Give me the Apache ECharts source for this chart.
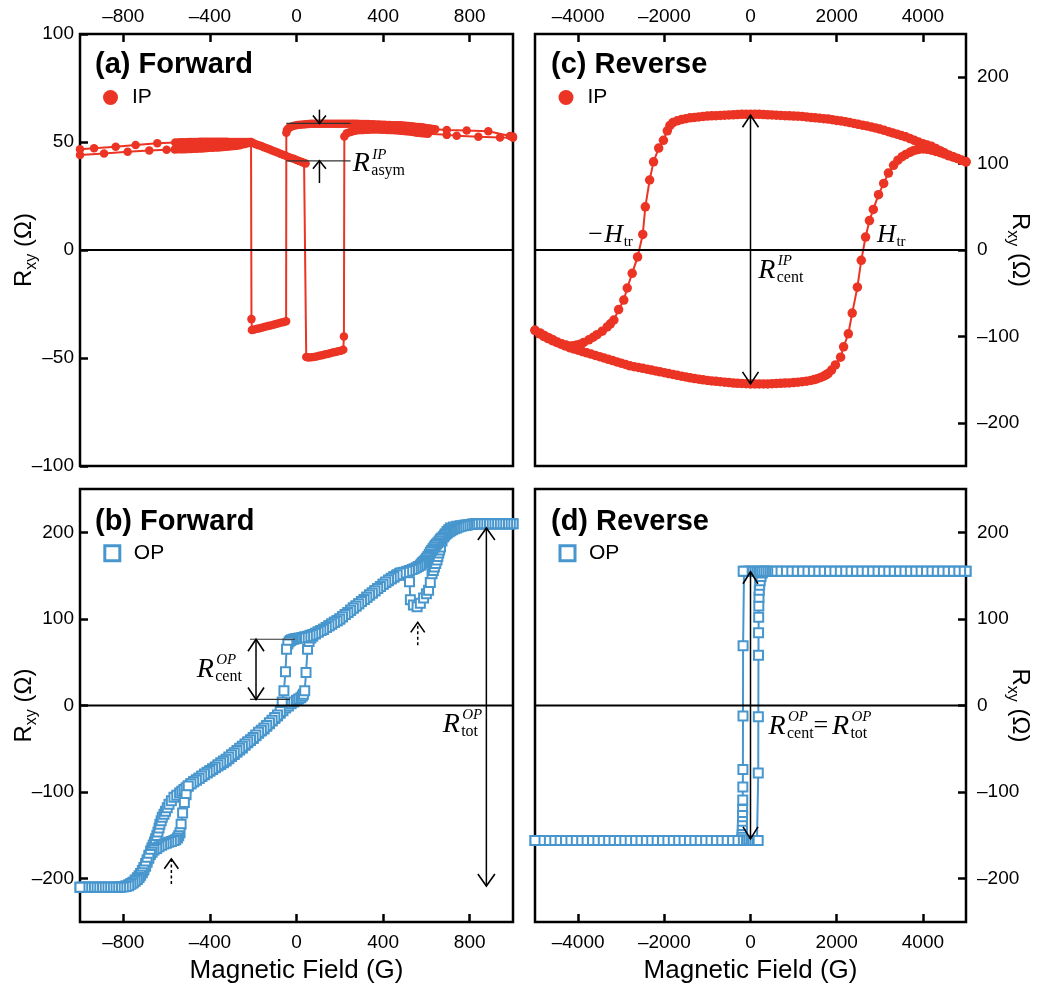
<!DOCTYPE html>
<html><head><meta charset="utf-8">
<script src="https://cdn.jsdelivr.net/npm/echarts@6/dist/echarts.min.js"></script>
<style>html,body{margin:0;padding:0;background:#fff}#c{width:1040px;height:989px}</style>
</head><body><div id="c"></div>
<script>
const RED = '#eb3424', BLUE = '#4796cd';
const SANS = "'Liberation Sans', Arial, Helvetica, sans-serif";
const SERIF = "'Liberation Serif', 'Times New Roman', serif";

// tick values
const fwdTicks = [-800, -400, 0, 400, 800];
const revTicks = [-4000, -2000, 0, 2000, 4000];
const ipFwdYTicks = [-100, -50, 0, 50, 100];
const rTicks = [-200, -100, 0, 100, 200];

// (a) IP forward  [field G, Rxy Ohm]
const ipFwdUp = [[-1000,44.0],[-889,44.7],[-780,45.5],[-680,46.1],[-600,46.4],[-562.5,46.5],[-550,46.6],[-537.5,46.6],[-525,46.7],[-512.5,46.7],[-500,46.8],[-487.5,46.8],[-475,46.9],[-462.5,46.9],[-450,47.0],[-437.5,47.0],[-425,47.1],[-412.5,47.2],[-400,47.3],[-387.5,47.3],[-375,47.4],[-362.5,47.5],[-350,47.6],[-337.5,47.7],[-325,47.8],[-312.5,47.9],[-300,48.0],[-287.5,48.1],[-275,48.3],[-262.5,48.5],[-250,48.8],[-237.5,49.1],[-225,49.4],[-212,50.0],[-200,49.5],[-187.5,49.0],[-175,48.5],[-162.5,48.1],[-150,47.6],[-137.5,47.1],[-125,46.6],[-112.5,46.1],[-100,45.6],[-87.5,45.1],[-75,44.6],[-62.5,44.1],[-50,43.6],[-37.5,43.1],[-25,42.6],[-12.5,42.2],[0,41.7],[12.5,41.2],[25,40.7],[35,40.3],[42,40.0],[45,-49.5],[55,-49.8],[67.5,-49.7],[80,-49.5],[92.5,-49.3],[105,-49.0],[117.5,-48.7],[130,-48.4],[142.5,-48.1],[155,-47.8],[167.5,-47.5],[180,-47.2],[192.5,-46.9],[205,-46.6],[216,-46.2],[219,-40.0],[221,52.6],[232,54.0],[245,54.5],[257,54.9],[270,55.2],[282,55.4],[295,55.5],[307,55.6],[320,55.7],[332,55.7],[345,55.8],[357,55.8],[370,55.8],[382,55.8],[395,55.7],[407,55.7],[420,55.6],[432,55.6],[445,55.5],[457,55.4],[470,55.3],[482,55.2],[495,55.1],[507,55.0],[520,54.9],[532,54.7],[545,54.5],[557,54.3],[570,54.2],[582,54.0],[595,53.9],[607,53.8],[694,53.3],[740,52.9],[840,52.4],[940,52.1],[1000,52.0]];
const ipFwdDown = [[1000,52.6],[986,52.8],[886,55.0],[786,55.3],[694,55.6],[641,55.9],[630,56.0],[617,56.2],[605,56.4],[592,56.6],[580,56.8],[567,56.9],[555,57.0],[542,57.2],[530,57.3],[517,57.4],[505,57.5],[492,57.6],[480,57.7],[467,57.7],[455,57.8],[442,57.8],[430,57.9],[417,57.9],[405,58.0],[392,58.0],[380,58.1],[367,58.1],[355,58.2],[342,58.2],[330,58.3],[317,58.3],[305,58.3],[292,58.3],[280,58.4],[267,58.4],[255,58.4],[242,58.4],[230,58.5],[217,58.5],[205,58.5],[192,58.5],[180,58.5],[167,58.5],[155,58.5],[142,58.5],[130,58.5],[117,58.5],[105,58.5],[92,58.5],[80,58.4],[67,58.4],[55,58.3],[42,58.2],[30,58.1],[17,58.0],[5,57.9],[-7,57.6],[-20,57.3],[-30,56.8],[-38,56.2],[-44,55.5],[-47,54.3],[-48,-33.0],[-58,-33.3],[-70,-33.6],[-82,-33.9],[-95,-34.3],[-107,-34.6],[-120,-34.9],[-132,-35.2],[-145,-35.5],[-157,-35.9],[-170,-36.2],[-182,-36.5],[-195,-36.8],[-206,-37.0],[-208,-32.0],[-210,50.0],[-222,50.0],[-235,50.0],[-247,50.0],[-260,50.0],[-272,50.0],[-285,50.0],[-297,50.0],[-310,50.0],[-322,50.1],[-335,50.1],[-347,50.1],[-360,50.1],[-372,50.1],[-385,50.1],[-397,50.1],[-410,50.1],[-422,50.1],[-435,50.1],[-447,50.1],[-460,50.0],[-472,50.0],[-485,50.0],[-497,50.0],[-510,49.9],[-522,49.9],[-535,49.9],[-547,49.8],[-560,49.8],[-643,49.4],[-743,48.6],[-835,47.8],[-935,47.1],[-1000,46.6]];

// (c) IP reverse
const ipRevDown = [[5000,102],[4900,104],[4800,106],[4700,108],[4600,110],[4500,112.5],[4400,115],[4300,117.5],[4200,120],[4100,121.5],[4000,123],[3900,125],[3800,127],[3700,129],[3600,131],[3500,132.5],[3400,134],[3300,135.5],[3200,137],[3100,138.5],[3000,140],[2900,141.3],[2800,142.5],[2700,143.5],[2600,144.5],[2500,145.5],[2400,146.5],[2300,147.5],[2200,148.5],[2100,149.3],[2000,150],[1900,150.8],[1800,151.5],[1700,152],[1600,152.5],[1500,153],[1400,153.5],[1300,154],[1200,154.5],[1100,154.8],[1000,155],[900,155.3],[800,155.5],[700,155.8],[600,156],[500,156.3],[400,156.5],[300,156.8],[200,157],[100,157],[0,157],[-100,157],[-200,157],[-300,156.8],[-400,156.5],[-500,156.3],[-600,156],[-700,155.8],[-800,155.5],[-900,155.3],[-1000,155],[-1100,154.5],[-1200,154],[-1300,153.5],[-1400,153],[-1500,152],[-1600,151],[-1700,149.5],[-1800,147.5],[-1870,144],[-1930,138],[-2020,127],[-2130,118],[-2250,102],[-2340,81],[-2440,50],[-2500,18],[-2620,-8],[-2745,-27],[-2860,-44],[-2940,-58],[-3060,-69],[-3170,-81],[-3250,-85.5],[-3325,-89],[-3440,-94],[-3560,-98],[-3650,-101],[-3750,-104],[-3870,-107],[-3950,-109],[-4030,-110],[-4100,-110.7],[-4180,-111],[-4280,-110],[-4380,-108.5],[-4480,-106.5],[-4580,-104],[-4680,-101.5],[-4780,-99],[-4880,-96],[-5000,-93]];
const ipRevUp = [[-5000,-93],[-4900,-97],[-4800,-100],[-4700,-102.5],[-4600,-105],[-4500,-107],[-4400,-109],[-4300,-111],[-4200,-113],[-4100,-114.5],[-4000,-116],[-3900,-117.5],[-3800,-119],[-3700,-120.5],[-3600,-122],[-3500,-123.5],[-3400,-125],[-3300,-126.5],[-3200,-128],[-3100,-129.5],[-3000,-131],[-2900,-132.5],[-2800,-134],[-2700,-135],[-2600,-136],[-2500,-137],[-2400,-138],[-2300,-139],[-2200,-140],[-2100,-141],[-2000,-142],[-1900,-143],[-1800,-144],[-1700,-145],[-1600,-146],[-1500,-147],[-1400,-148],[-1300,-148.8],[-1200,-149.5],[-1100,-150.3],[-1000,-151],[-900,-151.5],[-800,-152],[-700,-152.5],[-600,-153],[-500,-153.5],[-400,-154],[-300,-154.3],[-200,-154.5],[-100,-154.8],[0,-155],[100,-155],[200,-155],[300,-155],[400,-155],[500,-154.8],[600,-154.5],[700,-154.3],[800,-154],[900,-153.8],[1000,-153.5],[1100,-153],[1200,-152.5],[1300,-151.8],[1400,-151],[1480,-150],[1550,-149],[1630,-147.5],[1700,-146],[1750,-144.5],[1800,-143],[1880,-139],[1970,-133],[2090,-124],[2160,-112],[2270,-97],[2360,-73],[2480,-43],[2570,-12],[2670,15],[2760,34],[2850,47],[2970,64],[3090,77],[3200,89],[3320,98],[3420,104],[3520,108],[3600,110.5],[3700,113],[3780,115],[3850,116],[3920,116.7],[4010,117],[4100,116.5],[4200,115.5],[4300,114],[4400,112.7],[4500,111],[4600,109],[4700,107.5],[4800,106],[4900,104],[5000,102]];

// (b) OP forward
const opFwdUp = [[-1000,-210],[-987.5,-210],[-975,-210],[-962.5,-210],[-950,-210],[-937.5,-210],[-925,-210],[-912.5,-210],[-900,-210],[-887.5,-210],[-875,-210],[-862.5,-210],[-850,-210],[-837.5,-210],[-825,-209.5],[-812.5,-209.3],[-800,-209],[-787.5,-208.2],[-775,-207],[-765,-205.5],[-755,-204],[-745,-201.5],[-735,-199],[-727,-196.5],[-720,-194],[-712,-190.5],[-705,-187],[-697,-182.5],[-690,-178],[-682,-173],[-674,-168],[-668,-164.5],[-662,-161],[-656,-157.5],[-651,-154],[-645,-150],[-640,-146],[-635,-141.5],[-631,-137],[-625,-133],[-620,-129],[-612,-125.5],[-605,-122],[-597,-118],[-589,-114],[-578,-110],[-566,-106],[-553,-103.5],[-540,-101],[-530,-99],[-520,-97],[-510,-95],[-500,-93],[-487.5,-90.5],[-475,-88],[-462.5,-86],[-450,-84],[-437.5,-82],[-425,-80],[-412.5,-78],[-400,-76],[-387.5,-74],[-375,-72],[-362.5,-70],[-350,-68],[-337.5,-66],[-325,-64],[-312.5,-61.5],[-300,-59],[-287.5,-56.5],[-275,-54],[-262.5,-51.5],[-250,-49],[-237.5,-46],[-225,-43],[-212.5,-40.5],[-200,-38],[-187.5,-35],[-175,-32],[-162.5,-29.5],[-150,-27],[-137.5,-24],[-125,-21],[-112.5,-18],[-100,-15],[-87.5,-12],[-75,-9],[-62.5,-6],[-50,-3],[-37.5,-0.5],[-25,2],[-12.5,4],[0,6],[10,7.5],[20,9],[27,11],[32,13],[38,17],[44,38],[51,65],[58,74],[66,78],[75,80],[87.5,82.5],[100,85],[112.5,86.5],[125,88],[137.5,90],[150,92],[162.5,94],[175,96],[187.5,98],[200,100],[212.5,102.5],[225,105],[237.5,107.5],[250,110],[262.5,112.5],[275,115],[287.5,117.5],[300,120],[312.5,122.5],[325,125],[337.5,127.5],[350,130],[362.5,132.5],[375,135],[387.5,137.5],[400,140],[412.5,142],[425,144],[437.5,146],[450,148],[462.5,150],[475,152],[487.5,153],[500,153],[510,151.5],[515,150],[522,143],[526,122],[540,116],[557,114],[572,118],[587,124],[600,129],[610,133],[618,142],[626,152],[632,156],[637,160],[643,164],[649,168],[653,172],[657,176],[661,179.5],[665,183],[672,190],[680,195],[687,198],[695,201],[703,203],[711,205],[725,206],[740,207],[756,207.5],[772,208],[786,208.5],[800,209],[812.5,209.3],[825,209.5],[837.5,209.8],[850,210],[862.5,210],[875,210],[887.5,210],[900,210],[912.5,210],[925,210],[937.5,210],[950,210],[962.5,210],[975,210],[987.5,210],[1000,210]];
const opFwdDown = [[1000,210],[987.5,210],[975,210],[962.5,210],[950,210],[937.5,210],[925,210],[912.5,210],[900,210],[887.5,210],[875,210],[862.5,210],[850,210],[837.5,210],[825,210],[812.5,209.5],[800,209],[790,208.5],[780,208],[770,207.5],[760,207],[750,206],[740,205],[730,204],[720,203],[712,201.8],[705,200.5],[697,199.3],[690,198],[684,196.5],[678,195],[671,193.5],[665,192],[659,190],[653,188],[647,186.5],[641,185],[636,183],[630,181],[624,179],[618,177],[613,174.5],[607,172],[601,170],[595,168],[589,166.5],[583,165],[577,163.5],[572,162],[562,160.5],[553,159],[543,158],[534,157],[522,156],[510,155],[495,154],[480,153],[465,151],[450,149],[437.5,147],[425,145],[412.5,142.5],[400,140],[387.5,137.5],[375,135],[362.5,132.5],[350,130],[337.5,127.5],[325,125],[312.5,122.5],[300,120],[287.5,117.5],[275,115],[262.5,112.5],[250,110],[237.5,107.5],[225,105],[212.5,102.5],[200,100],[187.5,98],[175,96],[162.5,94],[150,92],[137.5,90],[125,88],[112.5,86.5],[100,85],[87.5,83.5],[75,82],[62.5,81],[50,80],[37.5,79.3],[25,78.5],[12.5,78],[0,77.5],[-7,77],[-15,76.5],[-22,75.8],[-28,75],[-34,73.5],[-40,71],[-46,65],[-51,39],[-58,17],[-66,4],[-75,-7],[-87.5,-11],[-100,-14],[-112.5,-17],[-125,-20],[-137.5,-23],[-150,-26],[-162.5,-28.5],[-175,-31],[-187.5,-34],[-200,-37],[-212.5,-39.5],[-225,-42],[-237.5,-44.5],[-250,-47],[-262.5,-49.5],[-275,-52],[-287.5,-54.5],[-300,-57],[-312.5,-59.5],[-325,-62],[-337.5,-64],[-350,-66],[-362.5,-68.5],[-375,-71],[-387.5,-73],[-400,-75],[-412.5,-77],[-425,-79],[-437.5,-81.5],[-450,-84],[-462.5,-86],[-475,-88],[-487.5,-90.5],[-500,-93],[-510,-103],[-518,-112],[-526,-124],[-533,-137],[-538,-147],[-544,-150.5],[-550,-153],[-558,-155],[-566,-156],[-578,-157],[-590,-158],[-601,-159],[-612,-160],[-623,-161.5],[-635,-163],[-646,-165],[-658,-167],[-667,-169.5],[-675,-172],[-682,-176.5],[-690,-181],[-697,-185.5],[-705,-190],[-712,-193],[-720,-196],[-727,-198.5],[-735,-201],[-745,-203],[-755,-205],[-765,-206.5],[-775,-208],[-787.5,-209],[-800,-209.5],[-812.5,-210],[-825,-210],[-837.5,-210],[-850,-210],[-862.5,-210],[-875,-210],[-887.5,-210],[-900,-210],[-912.5,-210],[-925,-210],[-937.5,-210],[-950,-210],[-962.5,-210],[-975,-210],[-987.5,-210],[-1000,-210]];

// (d) OP reverse
const opRevUp = [[-5000,-156],[-4875,-156],[-4750,-156],[-4625,-156],[-4500,-156],[-4375,-156],[-4250,-156],[-4125,-156],[-4000,-156],[-3875,-156],[-3750,-156],[-3625,-156],[-3500,-156],[-3375,-156],[-3250,-156],[-3125,-156],[-3000,-156],[-2875,-156],[-2750,-156],[-2625,-156],[-2500,-156],[-2375,-156],[-2250,-156],[-2125,-156],[-2000,-156],[-1875,-156],[-1750,-156],[-1625,-156],[-1500,-156],[-1375,-156],[-1250,-156],[-1125,-156],[-1000,-156],[-875,-156],[-750,-156],[-625,-156],[-500,-156],[-400,-156],[-350,-156],[-300,-156],[-250,-156],[-200,-156],[-150,-156],[-100,-156],[-50,-156],[0,-156],[50,-156],[100,-156],[150,-156],[178,-156],[180,-78],[182,-13],[185,58],[187,84],[190,102],[193,115],[197,125],[203,133],[212,139],[225,144],[245,149],[275,153],[310,155],[375,155],[500,155],[625,155],[750,155],[875,155],[1000,155],[1125,155],[1250,155],[1375,155],[1500,155],[1625,155],[1750,155],[1875,155],[2000,155],[2125,155],[2250,155],[2375,155],[2500,155],[2625,155],[2750,155],[2875,155],[3000,155],[3125,155],[3250,155],[3375,155],[3500,155],[3625,155],[3750,155],[3875,155],[4000,155],[4125,155],[4250,155],[4375,155],[4500,155],[4625,155],[4750,155],[4875,155],[5000,155]];
const opRevDown = [[5000,155],[4875,155],[4750,155],[4625,155],[4500,155],[4375,155],[4250,155],[4125,155],[4000,155],[3875,155],[3750,155],[3625,155],[3500,155],[3375,155],[3250,155],[3125,155],[3000,155],[2875,155],[2750,155],[2625,155],[2500,155],[2375,155],[2250,155],[2125,155],[2000,155],[1875,155],[1750,155],[1625,155],[1500,155],[1375,155],[1250,155],[1125,155],[1000,155],[875,155],[750,155],[625,155],[500,155],[400,155],[350,155],[300,155],[250,155],[200,155],[150,155],[100,155],[50,155],[0,155],[-50,155],[-100,155],[-150,155],[-170,155],[-172,69],[-174,-12],[-176,-74],[-178,-94],[-180,-109],[-182,-120],[-184,-127],[-186,-134],[-188,-139],[-190,-144],[-193,-149],[-196,-152],[-200,-155],[-250,-156],[-300,-156],[-375,-156],[-500,-156],[-625,-156],[-750,-156],[-875,-156],[-1000,-156],[-1125,-156],[-1250,-156],[-1375,-156],[-1500,-156],[-1625,-156],[-1750,-156],[-1875,-156],[-2000,-156],[-2125,-156],[-2250,-156],[-2375,-156],[-2500,-156],[-2625,-156],[-2750,-156],[-2875,-156],[-3000,-156],[-3125,-156],[-3250,-156],[-3375,-156],[-3500,-156],[-3625,-156],[-3750,-156],[-3875,-156],[-4000,-156],[-4125,-156],[-4250,-156],[-4375,-156],[-4500,-156],[-4625,-156],[-4750,-156],[-4875,-156],[-5000,-156]];

const fmt = v => (v < 0 ? '\u2013' + Math.abs(v) : String(v));
const tickStyle = { show: true, inside: true, length: 8, lineStyle: { color: '#000', width: 2.5 } };
const yName = 'R{s|xy} (\u03a9)';
const yNameStyle = { fontFamily: SANS, fontSize: 24, color: '#000', rich: { s: { fontFamily: SANS, fontSize: 16, color: '#000', padding: [16, 0, 0, 0] } } };

function xAx(gi, pos, min, max, ticks, withName) {
  const a = {
    type: 'value', gridIndex: gi, position: pos, min, max,
    axisLine: { show: false, onZero: false }, splitLine: { show: false },
    axisTick: Object.assign({ customValues: ticks }, tickStyle),
    axisLabel: { customValues: ticks, formatter: fmt, fontFamily: SANS, fontSize: 19, color: '#000', margin: pos === 'top' ? 8 : 11 },
    nameMoveOverlap: false
  };
  if (withName) {
    a.name = 'Magnetic Field (G)'; a.nameLocation = 'middle'; a.nameGap = 36;
    a.nameTextStyle = { fontFamily: SANS, fontSize: 26, color: '#000' };
  }
  return a;
}
function yAx(gi, pos, min, max, ticks) {
  return {
    type: 'value', gridIndex: gi, position: pos, min, max,
    axisLine: { show: false, onZero: false }, splitLine: { show: false },
    axisTick: Object.assign({ customValues: ticks }, tickStyle),
    axisLabel: { customValues: ticks, formatter: fmt, fontFamily: SANS, fontSize: 19, color: '#000', margin: pos === 'left' ? 6 : 11 },
    name: yName, nameLocation: 'middle', nameGap: pos === 'left' ? 40 : 38,
    nameRotate: pos === 'left' ? 90 : -90, nameTextStyle: yNameStyle, nameMoveOverlap: false
  };
}
function ser(name, data, gi, op) {
  return {
    type: 'line', name, data, xAxisIndex: gi, yAxisIndex: gi,
    showAllSymbol: true, symbol: op ? 'emptyRect' : 'circle',
    symbolSize: op ? 9 : (gi === 1 ? 9.5 : 8.5),
    lineStyle: { color: op ? BLUE : RED, width: 2 },
    itemStyle: op ? { color: BLUE, borderWidth: 1.4 } : { color: RED },
    emphasis: { disabled: true }, animation: false, clip: true, silent: true
  };
}
const gridBase = { show: true, borderColor: '#000', borderWidth: 2.5, backgroundColor: 'transparent', outerBoundsMode: 'none', containLabel: false };
const titleStyle = { fontFamily: SANS, fontSize: 29, fontWeight: 'bold', color: '#000' };
function leg(name, left, top, op) {
  const l = { data: [name], left, top, padding: 0, icon: op ? 'rect' : 'circle', itemWidth: 15, itemHeight: 15,
    textStyle: { fontFamily: SANS, fontSize: 21, color: '#000', padding: [0, 0, 0, 9] }, selectedMode: false };
  if (op) l.itemStyle = { color: '#fff', borderColor: BLUE, borderWidth: 3 };
  else l.itemStyle = { color: RED };
  return l;
}

const option = {
  backgroundColor: '#fff',
  animation: false,
  grid: [
    Object.assign({ left: 80, top: 34, width: 433, height: 432 }, gridBase),
    Object.assign({ left: 535, top: 34, width: 431, height: 432 }, gridBase),
    Object.assign({ left: 80, top: 489, width: 433, height: 433 }, gridBase),
    Object.assign({ left: 535, top: 489, width: 431, height: 433 }, gridBase)
  ],
  xAxis: [
    xAx(0, 'top', -1000, 1000, fwdTicks, false),
    xAx(1, 'top', -5000, 5000, revTicks, false),
    xAx(2, 'bottom', -1000, 1000, fwdTicks, true),
    xAx(3, 'bottom', -5000, 5000, revTicks, true)
  ],
  yAxis: [
    yAx(0, 'left', -100, 100, ipFwdYTicks),
    yAx(1, 'right', -250, 250, rTicks),
    yAx(2, 'left', -250, 250, rTicks),
    yAx(3, 'right', -250, 250, rTicks)
  ],
  title: [
    { text: '(a) Forward', left: 95, top: 50, padding: 0, textStyle: titleStyle },
    { text: '(c) Reverse', left: 551, top: 50, padding: 0, textStyle: titleStyle },
    { text: '(b) Forward', left: 95, top: 507, padding: 0, textStyle: titleStyle },
    { text: '(d) Reverse', left: 551, top: 507, padding: 0, textStyle: titleStyle }
  ],
  legend: [
    leg('IP', 103, 87, false),
    leg('IP', 558.5, 87, false),
    leg('OP', 103.3, 542.8, true),
    leg('OP', 558.5, 542.8, true)
  ],
  series: [
    ser('IP', ipFwdUp, 0, false), ser('IP', ipFwdDown, 0, false),
    ser('IP', ipRevDown, 1, false), ser('IP', ipRevUp, 1, false),
    ser('OP', opFwdUp, 2, true), ser('OP', opFwdDown, 2, true),
    ser('OP', opRevUp, 3, true), ser('OP', opRevDown, 3, true)
  ]
};

const chart = echarts.init(document.getElementById('c'), null, { renderer: 'canvas' });
chart.setOption(option);

// ---------- annotations (positions via the chart's own axes) ----------
const P = (gi, h, r) => chart.convertToPixel({ gridIndex: gi }, [h, r]);
const G = [];
function seg(a, b, w, color, dash) {
  G.push({ type: 'line', silent: true, z: 50, shape: { x1: a[0], y1: a[1], x2: b[0], y2: b[1] },
    style: { stroke: color || '#000', lineWidth: w || 1.5, lineDash: dash || null } });
}
function head(tip, from, hw, hh) {
  let dx = tip[0] - from[0], dy = tip[1] - from[1];
  const L = Math.hypot(dx, dy); dx /= L; dy /= L;
  const bx = tip[0] - dx * hh, by = tip[1] - dy * hh, nx = -dy, ny = dx;
  G.push({ type: 'polyline', silent: true, z: 51, shape: { points: [[bx + nx * hw, by + ny * hw], tip, [bx - nx * hw, by - ny * hw]] },
    style: { stroke: '#000', lineWidth: 1.6, fill: null } });
}
function arrow(gi, h1, r1, h2, r2, hw, hh, both, dash) {
  const a = P(gi, h1, r1), b = P(gi, h2, r2);
  seg(a, b, 1.5, '#000', dash);
  head(b, a, hw, hh);
  if (both) head(a, b, hw, hh);
}
function hline(gi, h1, h2, r) { seg(P(gi, h1, r), P(gi, h2, r), 1.2, '#333'); }
function txt(x, y, s, font, z) {
  G.push({ type: 'text', silent: true, z: z || 60, x, y,
    style: { text: s, font, fill: '#000', textAlign: 'left', textVerticalAlign: 'middle' } });
}
function rSym(x, y, sup, sub) {
  txt(x, y, 'R', 'italic 28px ' + SERIF);
  txt(x + 19.5, y - 9, sup, 'italic 15px ' + SERIF);
  txt(x + 18.5, y + 7, sub, '16px ' + SERIF);
}
function hSym(x, y, minus) {
  let x0 = x;
  if (minus) { txt(x0, y, '\u2212', '26px ' + SERIF); x0 += 16; }
  txt(x0, y, 'H', 'italic 26px ' + SERIF);
  txt(x0 + 19.5, y + 7, 'tr', '15px ' + SERIF);
}
function zeroLine(gi, min, max) { seg(P(gi, min, 0), P(gi, max, 0), 2.2, '#000'); }

zeroLine(0, -1000, 1000); zeroLine(1, -5000, 5000); zeroLine(2, -1000, 1000); zeroLine(3, -5000, 5000);

// (a)
hline(0, -47, 250, 58.6); hline(0, -47, 250, 41.3);
arrow(0, 106, 65, 106, 58.6, 6.5, 8, false);
arrow(0, 106, 31, 106, 41.3, 6.5, 8, false);
let p = P(0, 260, 40); rSym(p[0], p[1], 'IP', 'asym');
// (c)
arrow(1, 0, -155, 0, 156, 8, 12, true);
p = P(1, 180, -23.7); rSym(p[0], p[1], 'IP', 'cent');
p = P(1, -3766, 17.3); hSym(p[0], p[1], true);
p = P(1, 2933, 17.3); hSym(p[0], p[1], false);
// (b)
hline(2, -215, -7, 76.5); hline(2, -215, -30, 7);
arrow(2, -187, 7, -187, 76.5, 8, 12, true);
arrow(2, 877, -208.5, 877, 205, 8.5, 12, true);
arrow(2, 560, 69.5, 560, 96, 7, 10, false, [3, 2.5]);
arrow(2, -578, -206, -578, -177, 7, 10, false, [3, 2.5]);
p = P(2, -461, 41.7); rSym(p[0], p[1], 'OP', 'cent');
p = P(2, 675, -22); rSym(p[0], p[1], 'OP', 'tot');
// (d)
arrow(3, 0, -154, 0, 154.5, 7.5, 12, true);
p = P(3, 418, -24.3); rSym(p[0], p[1], 'OP', 'cent');
txt(p[0] + 45, p[1], '=', '26px ' + SERIF);
rSym(p[0] + 63.4, p[1], 'OP', 'tot');

chart.setOption({ graphic: G });
</script></body></html>
